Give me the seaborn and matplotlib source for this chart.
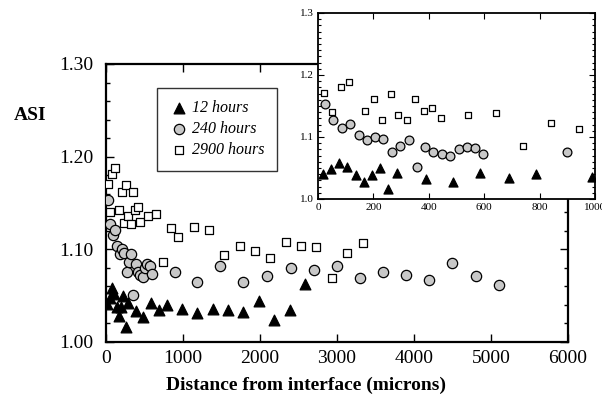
import matplotlib
matplotlib.use("Agg")
import matplotlib.pyplot as plt
from matplotlib.ticker import MultipleLocator, FormatStrFormatter
import seaborn as sns
import pandas as pd

# ---- data ----
h12_x = [17, 46, 77, 106, 137, 167, 195, 224, 254, 284, 389, 486, 586, 688, 787, 988,
         1186, 1394, 1589, 1784, 1987, 2182, 2385, 2589]
h12_y = [1.041, 1.048, 1.058, 1.052, 1.038, 1.028, 1.038, 1.050, 1.016, 1.042, 1.033, 1.027,
         1.042, 1.034, 1.040, 1.036,
         1.031, 1.036, 1.035, 1.032, 1.044, 1.024, 1.035, 1.063]

h240_x = [26, 54, 87, 116, 147, 176, 206, 236, 267, 295, 327, 356, 387, 416, 448, 477,
          508, 537, 568, 597, 898,
          1186, 1485, 1784, 2087, 2398, 2697, 3000, 3303, 3600, 3900, 4199, 4498, 4801, 5100]
h240_y = [1.153, 1.127, 1.115, 1.121, 1.104, 1.095, 1.100, 1.096, 1.076, 1.086, 1.095, 1.051,
          1.084, 1.076, 1.072, 1.070, 1.080, 1.084, 1.082, 1.073, 1.076,
          1.065, 1.082, 1.065, 1.071, 1.080, 1.078, 1.082, 1.069, 1.075, 1.072, 1.067,
          1.085, 1.071, 1.062]

h2900_x = [22, 52, 82, 111, 171, 202, 231, 262, 290, 322, 351, 383, 412, 443, 541, 643,
           739, 840, 941,
           1139, 1333, 1537, 1736, 1935, 2134, 2333, 2532, 2731, 2933, 3132, 3333]
h2900_y = [1.171, 1.140, 1.181, 1.188, 1.142, 1.162, 1.128, 1.169, 1.136, 1.127, 1.162, 1.142,
           1.146, 1.130, 1.136, 1.138, 1.086, 1.123, 1.113,
           1.124, 1.121, 1.094, 1.104, 1.098, 1.091, 1.108, 1.104, 1.103, 1.069, 1.096, 1.107]

series_labels = ["12 hours", "240 hours", "2900 hours"]
main_xticks = [0, 1000, 2000, 3000, 4000, 5000, 6000]
main_yticks = [1.00, 1.10, 1.20, 1.30]
inset_xticks = [0, 200, 400, 600, 800, 1000]
inset_yticks = [1.0, 1.1, 1.2, 1.3]

# ---- style ----
sns.set_theme(style="ticks")
plt.rcParams["font.family"] = ["Liberation Serif", "DejaVu Serif"]
plt.rcParams["axes.edgecolor"] = "black"
plt.rcParams["xtick.color"] = "black"
plt.rcParams["ytick.color"] = "black"
plt.rcParams["text.color"] = "black"

df = pd.concat([
    pd.DataFrame({"x": h12_x, "y": h12_y, "series": series_labels[0]}),
    pd.DataFrame({"x": h240_x, "y": h240_y, "series": series_labels[1]}),
    pd.DataFrame({"x": h2900_x, "y": h2900_y, "series": series_labels[2]}),
], ignore_index=True)

styles = {
    series_labels[0]: dict(marker="^", color="black", s=60, s_in=42),
    series_labels[1]: dict(marker="o", color="#c8c8c8", s=55, s_in=40),
    series_labels[2]: dict(marker="s", color="white", s=32, s_in=20),
}

fig = plt.figure(figsize=(6.02, 4.07), dpi=100)
W, H = 602, 407

def rect(l, t, r, b):
    return [l / W, 1 - b / H, (r - l) / W, (b - t) / H]

ax = fig.add_axes(rect(106, 64, 568, 342))
for lab in series_labels:
    sub = df[df["series"] == lab]
    st = styles[lab]
    sns.scatterplot(data=sub, x="x", y="y", ax=ax, marker=st["marker"], color=st["color"],
                    s=st["s"], edgecolor="black", linewidth=0.9, label=lab, zorder=3)

ax.set_xlim(0, 6000)
ax.set_ylim(1.0, 1.30)
ax.set_xticks(main_xticks)
ax.set_yticks(main_yticks)
ax.yaxis.set_major_formatter(FormatStrFormatter("%.2f"))
ax.yaxis.set_minor_locator(MultipleLocator(0.02))
ax.tick_params(which="both", direction="in", top=True, right=True, labelsize=14, width=1.0)
ax.tick_params(which="major", length=6)
ax.tick_params(axis="x", which="major", pad=6)
ax.tick_params(axis="y", which="major", pad=9)
ax.tick_params(which="minor", length=3)
ax.tick_params(axis="y", which="minor", left=True, right=True)
for sp in ax.spines.values():
    sp.set_linewidth(1.6)
    sp.set_visible(True)
ax.set_xlabel("")
ax.set_ylabel("")

leg = ax.legend(loc="upper left", bbox_to_anchor=(0.11, 0.915), frameon=True, fancybox=False,
                edgecolor="black", prop={"style": "italic", "size": 11.5}, borderpad=0.8,
                handletextpad=0.2, labelspacing=0.3, handlelength=1.2, borderaxespad=0)
leg.get_frame().set_linewidth(1.0)

fig.text(306 / W, 1 - 385 / H, "Distance from interface (microns)", ha="center", va="center",
         fontsize=14, fontweight="bold")
fig.text(30 / W, 1 - 115 / H, "ASI", ha="center", va="center", fontsize=14, fontweight="bold")

# ---- inset ----
ins = fig.add_axes(rect(318, 13, 595, 199))
ins.set_facecolor("white")
for lab in series_labels:
    sub = df[df["series"] == lab]
    st = styles[lab]
    sns.scatterplot(data=sub, x="x", y="y", ax=ins, marker=st["marker"], color=st["color"],
                    s=st["s_in"], edgecolor="black", linewidth=0.9, legend=False, zorder=3)
ins.set_xlim(0, 1000)
ins.set_ylim(1.0, 1.3)
ins.set_xticks(inset_xticks)
ins.set_yticks(inset_yticks)
ins.yaxis.set_major_formatter(FormatStrFormatter("%.1f"))
ins.yaxis.set_minor_locator(MultipleLocator(0.01))
ins.tick_params(which="both", direction="in", top=True, right=True, labelsize=8, width=0.8)
ins.tick_params(which="major", length=4, pad=3)
ins.tick_params(which="minor", length=2)
for sp in ins.spines.values():
    sp.set_linewidth(1.3)
    sp.set_visible(True)
ins.set_xlabel("")
ins.set_ylabel("")

fig.savefig("out.png", dpi=100)
